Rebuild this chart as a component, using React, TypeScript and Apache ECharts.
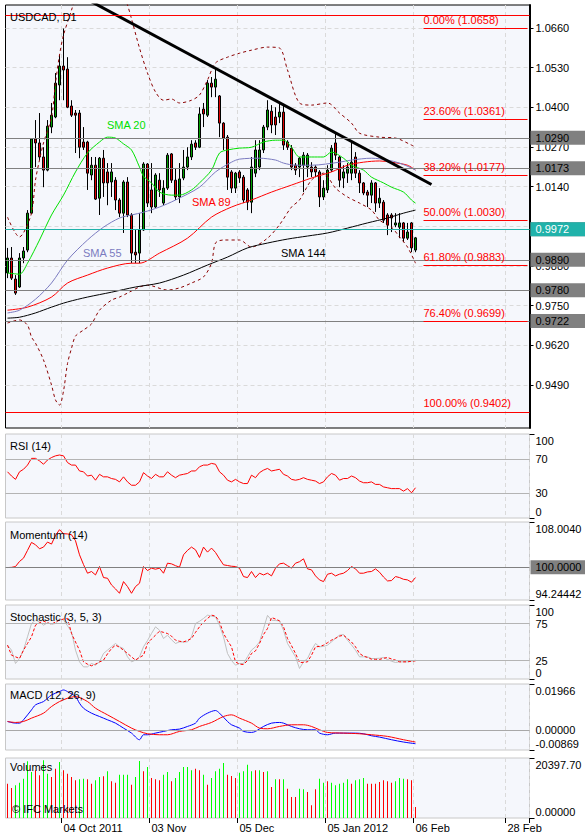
import React, { useEffect, useRef } from 'react';
import * as echarts from 'echarts';

const FONT = '"Liberation Sans", Arial, sans-serif';

// ---------- axis / category data ----------
const SLOT_COUNT = 131;
const labelIndex = [14, 36, 58, 80, 102, 125];
const labelText = ['04 Oct 2011', '03 Nov', '05 Dec', '05 Jan 2012', '06 Feb', '28 Feb'];
const priceTicks = [0.949, 0.962, 0.975, 0.988, 1.001, 1.014, 1.027, 1.04, 1.053, 1.066];

// ---------- price data: [open, close, low, high] ----------
const ohlc = [
  [0.9857, 0.9906, 0.984, 0.9939], [0.9906, 0.984, 0.9834, 0.9942], [0.9837, 0.9791, 0.9785, 0.985],
  [0.9811, 0.9906, 0.9808, 0.9922], [0.9906, 0.9929, 0.9889, 0.9942], [0.9932, 1.0053, 0.9925, 1.0063],
  [1.0053, 1.0296, 1.005, 1.0299], [1.0296, 1.0283, 1.0204, 1.0358], [1.0283, 1.0237, 1.0227, 1.0381],
  [1.0237, 1.0194, 1.0138, 1.0269], [1.0194, 1.0338, 1.019, 1.0358], [1.0335, 1.0374, 1.0315, 1.0414],
  [1.0368, 1.0479, 1.0364, 1.0512], [1.0473, 1.0535, 1.0423, 1.0571], [1.0535, 1.0522, 1.0423, 1.0658],
  [1.0525, 1.04, 1.0397, 1.0564], [1.0404, 1.0374, 1.0368, 1.0423], [1.0381, 1.0374, 1.025, 1.0391],
  [1.0381, 1.0269, 1.0233, 1.0391], [1.0286, 1.0269, 1.026, 1.0335], [1.0286, 1.0184, 1.0129, 1.029],
  [1.0178, 1.021, 1.0161, 1.0237], [1.021, 1.0099, 1.0096, 1.0237], [1.0102, 1.0233, 1.0047, 1.0237],
  [1.0233, 1.0152, 1.0106, 1.026], [1.0188, 1.0152, 1.0079, 1.0217], [1.0155, 1.0188, 1.0106, 1.0217],
  [1.0161, 1.0096, 1.0063, 1.0171], [1.0096, 1.0053, 1.004, 1.0102], [1.0053, 1.0155, 0.9988, 1.0161],
  [1.0155, 1.0047, 1.004, 1.0171], [1.0047, 0.9922, 0.9889, 1.0053], [0.9925, 0.9916, 0.9889, 0.9998],
  [0.9922, 0.9998, 0.9889, 1.0053], [0.9998, 1.0214, 0.9995, 1.022], [1.0214, 1.0086, 1.0073, 1.0217],
  [1.0129, 1.0073, 1.0053, 1.0217], [1.0073, 1.0178, 1.007, 1.0184], [1.0161, 1.0129, 1.0106, 1.0184],
  [1.0086, 1.0135, 1.0079, 1.0161], [1.0135, 1.0243, 1.0129, 1.025], [1.0247, 1.0161, 1.0152, 1.025],
  [1.0161, 1.0106, 1.0096, 1.0201], [1.0106, 1.0165, 1.0086, 1.0217], [1.0168, 1.0204, 1.0161, 1.026],
  [1.0204, 1.0237, 1.0194, 1.0269], [1.0237, 1.0279, 1.0227, 1.0292], [1.0283, 1.0269, 1.026, 1.0292],
  [1.0269, 1.0378, 1.0266, 1.04], [1.0394, 1.0378, 1.0335, 1.0414], [1.0374, 1.0479, 1.0368, 1.0489],
  [1.0479, 1.0466, 1.0433, 1.0499], [1.0466, 1.0492, 1.0433, 1.0532], [1.0437, 1.0348, 1.0302, 1.044],
  [1.0348, 1.0299, 1.026, 1.0351], [1.0302, 1.0171, 1.0129, 1.0309], [1.0188, 1.0135, 1.0119, 1.0194],
  [1.0135, 1.0184, 1.0119, 1.0188], [1.0188, 1.0168, 1.0152, 1.0194], [1.0171, 1.0096, 1.0086, 1.0178],
  [1.0129, 1.0089, 1.0063, 1.0135], [1.0089, 1.0204, 1.0053, 1.0237], [1.0184, 1.026, 1.0171, 1.0292],
  [1.0204, 1.026, 1.0194, 1.0292], [1.026, 1.0335, 1.025, 1.0342], [1.0335, 1.0391, 1.0325, 1.0423],
  [1.0387, 1.0342, 1.0315, 1.0407], [1.0368, 1.0342, 1.0309, 1.04], [1.0368, 1.0384, 1.0348, 1.0417],
  [1.0384, 1.0276, 1.026, 1.0407], [1.0286, 1.0269, 1.026, 1.0292], [1.0266, 1.0204, 1.0194, 1.0276],
  [1.021, 1.0194, 1.0178, 1.0217], [1.0204, 1.0233, 1.0171, 1.0237], [1.021, 1.0243, 1.0122, 1.0253],
  [1.0204, 1.0243, 1.0171, 1.025], [1.0204, 1.0188, 1.0171, 1.022], [1.0204, 1.0188, 1.0171, 1.021],
  [1.0188, 1.0106, 1.0073, 1.0194], [1.0106, 1.0135, 1.0096, 1.0161], [1.0129, 1.0194, 1.0119, 1.021],
  [1.0194, 1.0266, 1.0188, 1.0276], [1.0283, 1.0243, 1.0227, 1.0315], [1.0237, 1.0161, 1.0138, 1.024],
  [1.0168, 1.0188, 1.0135, 1.021], [1.0184, 1.0204, 1.0152, 1.0217], [1.0184, 1.022, 1.0161, 1.0286],
  [1.0237, 1.0184, 1.0168, 1.0253], [1.0184, 1.0152, 1.0119, 1.0194], [1.0152, 1.0119, 1.0112, 1.0155],
  [1.0122, 1.0112, 1.0073, 1.0129], [1.0112, 1.0152, 1.0086, 1.0161], [1.0152, 1.0086, 1.0057, 1.0155],
  [1.0086, 1.0102, 1.007, 1.0135], [1.0089, 1.003, 1.0021, 1.0096], [1.0047, 1.0014, 0.9981, 1.0053],
  [1.0047, 1.0037, 0.9991, 1.0053], [1.0014, 1.0021, 1.0007, 1.0053], [1.0007, 1.0021, 0.9971, 1.0053],
  [1.0021, 0.9971, 0.9958, 1.0024], [0.9971, 0.9991, 0.9965, 1.0021], [1.0021, 0.9939, 0.9925, 1.0024],
  [0.9932, 0.9972, 0.9925, 0.9975],
];

// ---------- moving averages & bands: [barIndex, value] ----------
const sma20 = [[0,0.9857],[3,0.9853],[5,0.9889],[8,0.9965],[11,1.0047],[14,1.0112],[17,1.0188],[20,1.025],[23,1.0286],[25,1.0302],[27,1.0299],[29,1.028],[31,1.026],[33,1.0204],[34,1.0174],[36,1.0152],[38,1.0122],[41,1.0112],[43,1.0112],[46,1.0129],[48,1.0152],[51,1.0194],[53,1.025],[55,1.026],[58,1.0266],[61,1.0269],[64,1.0286],[67,1.0292],[69,1.0292],[71,1.0269],[73,1.0237],[76,1.0237],[79,1.0237],[81,1.0253],[84,1.0233],[86,1.021],[89,1.0194],[91,1.0171],[94,1.0152],[96,1.0138],[99,1.0122],[101,1.0096],[102,1.0086]];
const sma55 = [[0,0.9726],[3,0.9735],[7,0.9771],[11,0.9824],[15,0.9899],[20,0.9965],[24,1.0007],[28,1.0037],[31,1.0047],[34,1.0056],[38,1.0073],[42,1.0096],[48,1.0138],[52,1.0188],[56,1.022],[58,1.023],[63,1.0233],[67,1.0227],[69,1.0217],[72,1.021],[76,1.021],[83,1.022],[86,1.0227],[91,1.0233],[95,1.0227],[98,1.0217],[101,1.0201],[102,1.0194]];
const sma89 = [[0,0.9735],[5,0.9745],[11,0.9778],[15,0.9824],[20,0.985],[25,0.9873],[31,0.9889],[33,0.9889],[38,0.9922],[45,0.9971],[51,1.004],[56,1.0073],[61,1.0096],[66,1.0122],[71,1.0145],[76,1.0168],[81,1.0188],[85,1.021],[89,1.022],[93,1.0224],[96,1.022],[100,1.021],[102,1.0194]];
const sma144 = [[0,0.9709],[3,0.9712],[7,0.9726],[11,0.9745],[15,0.9762],[20,0.9778],[26,0.9794],[32,0.9811],[38,0.9824],[44,0.985],[50,0.9883],[55,0.9909],[60,0.9939],[65,0.9955],[70,0.9968],[75,0.9978],[80,0.9988],[85,1.0004],[90,1.0021],[95,1.0037],[99,1.0053],[102,1.0063]];
const bbUpper = [[0,1.004],[3,0.9975],[4,0.9988],[6,1.0053],[7,1.0161],[8,1.0227],[9,1.0283],[11,1.0368],[12,1.0479],[13,1.0571],[14,1.0636],[16,1.0718],[18,1.08],[22,1.086],[26,1.0833],[29,1.077],[30,1.0735],[31,1.069],[33,1.0594],[35,1.0512],[37,1.045],[39,1.0423],[41,1.0427],[43,1.0414],[46,1.0423],[48,1.044],[50,1.0489],[52,1.0545],[55,1.0564],[58,1.0577],[61,1.0587],[65,1.0597],[68,1.0594],[70,1.0522],[73,1.0414],[76,1.0407],[80,1.0414],[83,1.0381],[86,1.0348],[88,1.0315],[93,1.0302],[97,1.0299],[101,1.0276],[102,1.0269]];
const bbLower = [[0,0.9693],[3,0.9703],[5,0.9686],[6,0.9647],[7,0.9627],[9,0.9572],[11,0.949],[12,0.9441],[13,0.9424],[14,0.947],[15,0.956],[16,0.961],[17,0.965],[19,0.967],[21,0.969],[23,0.9735],[26,0.9768],[28,0.9778],[30,0.9791],[33,0.9811],[35,0.9817],[40,0.9801],[43,0.9808],[46,0.9824],[49,0.9844],[51,0.9889],[52,0.9955],[54,0.9965],[58,0.9965],[61,0.9942],[65,0.9971],[68,1.0015],[71,1.0073],[73,1.0096],[76,1.0161],[79,1.0184],[82,1.0135],[85,1.0106],[88,1.0086],[91,1.0063],[93,1.003],[96,1.0007],[98,0.9975],[100,0.9942],[102,0.9889]];
const trendLine = [[14, 1.0795], [106, 1.0147]];

// ---------- horizontal levels ----------
const fibNames = ['0.00%', '23.60%', '38.20%', '50.00%', '61.80%', '76.40%', '100.00%'];
const fibValues = [1.0658, 1.0361, 1.0177, 1.003, 0.9883, 0.9699, 0.9402];
const fibStartIndex = 104;
const levelValues = [1.029, 1.0173, 1.005, 0.989, 0.978, 0.9722];
const lastPrice = 0.9972;

// ---------- indicators ----------
const rsi = [55,50,46,55,58,63,71,71,68,64,69,72,74,75,74,66,63,63,56,55,50,51,45,52,49,49,47,46,43,49,43,39,39,43,54,50,47,52,49,49,55,51,48,51,52,53,56,56,61,63,63,65,64,55,51,45,43,46,43,41,41,51,48,54,57,59,56,57,58,52,50,46,45,46,48,46,45,44,41,43,49,53,51,45,47,47,50,48,44,42,42,43,40,40,37,36,35,35,35,32,35,30,36];
const momentum = [99.97,100.0,100.15,101.04,101.63,103.0,104.4,103.99,103.28,103.58,104.46,104.11,105.64,106.65,105.94,105.9,105.76,104.7,102.22,100.5,98.97,99.27,98.67,100.15,98.2,98.08,96.9,96.2,95.43,97.49,96.61,95.43,96.61,97.2,100.15,99.44,99.86,99.68,99.86,98.97,100.74,100.62,100.3,100.03,102.22,103.0,103.58,103.1,101.75,103.58,102.69,103.4,102.63,101.5,100.45,100.33,100.2,100.15,99.86,98.38,98.2,99.27,98.2,98.97,98.67,98.97,98.5,99.86,100.62,100.74,100.3,99.86,100.74,101.0,101.51,99.74,99.56,98.5,97.79,97.49,98.79,98.97,98.5,98.8,98.97,99.44,100.15,99.74,98.97,98.97,99.2,99.27,99.74,99.15,98.3,97.61,97.67,98.38,98.2,97.9,97.79,97.38,98.2];
const stochK = [45.7,39,21,27.7,39,57,75,79.5,77.3,72.7,75.9,74.1,75,81.8,79.5,72,63.7,39,23.2,16.4,16.4,21,18.7,23.2,34.5,39,43.5,48,43.5,41.2,30,23.2,25.5,30,43.5,52,61.5,70.5,66,54.7,59.2,53,48,50.2,50,50.2,57,75,78,81.8,86.3,85,84,72.7,57,34.5,25,18.7,21,21,30,39,43.5,50,68,86,79.5,79,78.6,66,48,39,30,14.2,23.2,27.7,39,48,43.5,44,45.7,50.2,55,59.2,60.1,52.5,46,39,30,30,30,27.7,27.7,28,29.1,26.4,24,22.3,23.2,23.2,23.2,24,25.5];
const stochD = [45.7,32.2,30,27.7,39,48,57,72.7,76,78.2,76,74.1,77,79.5,81,81.8,61.5,50,39,23.2,20,17.8,20,23,25.5,34,41.2,45.7,43,39,34.5,30,25.5,29,32.2,48,54,59.2,64.6,63,61.5,57.9,52.5,51,50.2,52,54.7,63,70.5,77,81.8,86.3,85,77.3,61.5,52,43.5,23.2,20,19.6,25,34.5,38,48,60,68.2,83.1,81,78.6,70.5,54.7,45,34.5,22.3,22.5,23.2,32.2,43.5,44,45.7,49,52.5,55,57.9,59.2,54.7,50,43.5,34.5,31,29.1,26.8,26.6,26.4,28,29.1,27,25.5,23.2,23.2,23.2,24,24.5];
const macdMain = [[0,0.00356],[2,0.00285],[3,0.00285],[4,0.00428],[6,0.00855],[7,0.01069],[9,0.01211],[10,0.01354],[11,0.01496],[13,0.01639],[14,0.0171],[15,0.01639],[17,0.01425],[18,0.0114],[19,0.00926],[21,0.00713],[23,0.0057],[25,0.00428],[27,0.00285],[29,0.00071],[31,-0.00143],[33,-0.00428],[34,-0.00214],[35,-0.00214],[37,-0.00143],[39,-0.00071],[41,0],[43,0.00029],[45,0.00143],[47,0.00285],[48,0.00499],[50,0.00713],[52,0.00827],[53,0.00713],[55,0.00356],[56,0.00214],[58,0.00071],[59,-0.00071],[61,-0.00114],[62,-0.00071],[64,0.00143],[66,0.00285],[68,0.00314],[69,0.00285],[71,0.00143],[73,0.00043],[75,0],[77,0],[78,-0.00143],[80,-0.00214],[82,-0.00143],[84,-0.00143],[87,-0.00143],[89,-0.00171],[91,-0.00257],[93,-0.00314],[96,-0.00428],[99,-0.00527],[102,-0.00599]];
const macdSignal = [[0,0.00356],[2,0.00314],[4,0.00356],[6,0.00499],[9,0.00713],[11,0.00998],[13,0.01211],[15,0.01354],[17,0.01425],[20,0.01211],[22,0.00926],[25,0.00641],[28,0.00356],[31,0.00071],[33,-0.00071],[35,-0.00171],[38,-0.00214],[40,-0.00214],[43,-0.00071],[46,0],[48,0.00143],[51,0.00314],[54,0.0057],[56,0.00641],[58,0.00499],[61,0.00285],[63,0.00071],[65,0.00043],[68,0.00143],[71,0.00214],[74,0.00214],[76,0.00143],[78,0],[80,-0.00114],[84,-0.00143],[88,-0.00171],[91,-0.00214],[95,-0.00285],[99,-0.00428],[102,-0.00527]];
const volumes = [11672,10199,11105,12012,13372,19264,15638,16205,14505,19604,15072,13938,16771,19038,16205,15072,13938,12805,13145,13372,13145,11672,12805,13938,14165,15865,12465,12012,14732,14732,14732,11332,13938,19378,15865,17338,13598,13145,12805,14732,15638,12465,13598,15638,17338,17338,16205,16771,16205,14732,11332,13598,15865,16771,18698,14732,14278,13598,15411,15865,18131,15865,16205,16205,15638,15865,10539,13145,13145,13145,9972,7139,7139,9972,9746,8839,4306,9746,13372,12012,12465,12012,11105,11672,12012,13145,11672,12805,13145,13598,11672,11672,11672,12238,12805,12465,12012,12465,13598,13372,13145,12805,3740];
const volumeUp = [0,0,1,1,1,1,1,0,0,1,1,0,0,1,0,0,0,0,1,1,0,0,1,1,0,1,0,0,1,1,1,0,1,1,0,1,0,0,0,1,1,0,1,1,1,1,1,0,0,1,0,1,1,1,1,0,0,0,1,1,1,1,0,1,0,1,0,1,0,1,0,0,0,1,1,0,0,0,1,1,0,1,1,1,1,1,0,1,1,1,0,0,0,0,0,0,0,1,1,1,0,0,0];

const rsiTicks = [0, 30, 70, 100];
const rsiTickText = ['0', '30', '70', '100'];
const momMin = 94.24442, momMax = 108.004;
const momTicks = [momMin, momMax];
const momTickText = ['94.24442', '108.0040'];
const stochTicks = [0, 25, 75, 100];
const stochTickText = ['0', '25', '75', '100'];
const macdMin = -0.00869, macdMax = 0.01966;
const macdTicks = [macdMin, 0, macdMax];
const macdTickText = ['-0.00869', '0.00000', '0.01966'];
const volMax = 20397.7;
const volTicks = [0, volMax];
const volTickText = ['0.00000', '20397.70'];

const BG = '#F5F7FC';

export default function App() {
  const ref = useRef<HTMLDivElement>(null);
  useEffect(() => {
    document.body.style.margin = '0';
    const chart = echarts.init(ref.current as HTMLDivElement, null, { renderer: 'svg' });
    const categories = Array.from({ length: SLOT_COUNT }, (_, i) => String(i));
    const isLabelSlot = (i: number) => labelIndex.indexOf(i) >= 0;

    const panels = [
      { top: 5, height: 423, border: '#000000' },
      { top: 434, height: 84, border: '#C8C8C8' },
      { top: 522, height: 78, border: '#C8C8C8' },
      { top: 605, height: 74, border: '#C8C8C8' },
      { top: 684, height: 66, border: '#C8C8C8' },
      { top: 758, height: 60, border: '#C8C8C8' },
    ];
    const textStyle = { color: '#000', fontSize: 11, fontFamily: FONT };

    const indAxis = (gi: number, min: number, max: number, ticks: number[], texts: string[]) => ({
      type: 'value', gridIndex: gi, position: 'right', min, max,
      axisLine: { show: false },
      axisTick: { show: true, customValues: [min, max], length: 5, lineStyle: { color: '#000' } },
      axisLabel: {
        ...textStyle, margin: 6, customValues: ticks,
        formatter: (v: number) => {
          let best = 0;
          ticks.forEach((t, k) => { if (Math.abs(t - v) < Math.abs(ticks[best] - v)) best = k; });
          const s = texts[best];
          if (Math.abs(v - max) < 1e-9) return `{t|${s}}`;
          if (Math.abs(v - min) < 1e-9) return `{b|${s}}`;
          return s;
        },
        rich: {
          t: { ...textStyle, padding: [13, 0, 0, 0] },
          b: { ...textStyle, padding: [0, 0, 13, 0] },
        },
      },
      splitLine: { show: false },
    });

    const line = (data: any, color: string, xi: number, extra: any = {}) => ({
      type: 'line', xAxisIndex: xi, yAxisIndex: xi, data, showSymbol: false, symbol: 'none',
      lineStyle: { color, width: 1, ...(extra.lineStyle || {}) }, silent: true, z: 4,
      ...Object.fromEntries(Object.entries(extra).filter(([k]) => k !== 'lineStyle')),
    });

    const levelLine = (v: number, color: string) => ({ yAxis: v, lineStyle: { color, width: 1, type: 'solid' }, label: { show: false } });
    const boxLabel = (text: string, bg: string, fg: string) => ({
      show: true, position: 'end', formatter: text, backgroundColor: bg, color: fg,
      padding: [2, 16, 1, 5], distance: 1, fontSize: 11, fontFamily: FONT,
    });

    const priceMarks: any[] = [];
    levelValues.forEach((v) => priceMarks.push({ yAxis: v, lineStyle: { color: '#808080', width: 1, type: 'solid' }, label: boxLabel(v.toFixed(4), '#808080', '#000') }));
    priceMarks.push({ yAxis: lastPrice, lineStyle: { color: '#20B2AA', width: 1, type: 'solid' }, label: boxLabel(lastPrice.toFixed(4), '#20B2AA', '#FFFFFF') });
    priceMarks.push(levelLine(fibValues[0], '#FF0000'));
    priceMarks.push(levelLine(fibValues[fibValues.length - 1], '#FF0000'));
    fibValues.forEach((v, k) => priceMarks.push([
      {
        coord: [fibStartIndex, v], lineStyle: { color: '#FF0000', width: 1, type: 'solid' },
        label: { show: true, position: 'insideStartTop', formatter: `${fibNames[k]} (${v.toFixed(4)})`, color: '#FF0000', fontSize: 11, fontFamily: FONT, distance: [0, 3] },
      },
      { coord: [SLOT_COUNT - 1, v] },
    ]));

    const texts = [
      { text: 'USDCAD, D1', x: 10, y: 17, color: '#000' },
      { text: 'RSI (14)', x: 10, y: 446, color: '#000' },
      { text: 'Momentum (14)', x: 10, y: 535, color: '#000' },
      { text: 'Stochastic (3, 5, 3)', x: 10, y: 617, color: '#000' },
      { text: 'MACD (12, 26, 9)', x: 10, y: 695, color: '#000' },
      { text: 'Volumes', x: 10, y: 767, color: '#000' },
      { text: '© IFC Markets', x: 12, y: 809, color: '#000' },
      { text: 'SMA 20', x: 107, y: 125, color: '#00E000' },
      { text: 'SMA 55', x: 83, y: 253, color: '#7B7BC0' },
      { text: 'SMA 89', x: 192, y: 202, color: '#FF0000' },
      { text: 'SMA 144', x: 281, y: 253, color: '#000000' },
    ];

    const option: any = {
      animation: false,
      backgroundColor: '#FFFFFF',
      grid: panels.map((p) => ({
        left: 5.5, width: 524, top: p.top, height: p.height, show: true, backgroundColor: BG,
        borderColor: p.border, borderWidth: 1, containLabel: false, outerBoundsMode: 'none',
      })),
      xAxis: panels.map((p, k) => ({
        type: 'category', gridIndex: k, data: categories, boundaryGap: true,
        axisLine: { show: false, onZero: false },
        axisTick: { show: k === 5, interval: (i: number) => isLabelSlot(i), length: 5, lineStyle: { color: '#000' } },
        axisLabel: {
          show: k === 5, interval: (i: number) => isLabelSlot(i), align: 'left', margin: 4, ...textStyle,
          formatter: (_v: string, i: number) => { const j = labelIndex.indexOf(i); return j >= 0 ? labelText[j] : ''; },
        },
        splitLine: { show: true, interval: (i: number) => isLabelSlot(i), lineStyle: { color: '#DADADA', type: [4, 3], width: 1 } },
      })),
      yAxis: [
        {
          type: 'value', gridIndex: 0, position: 'right', min: 0.9349, max: 1.0735,
          axisLine: { show: true, onZero: false, lineStyle: { color: '#000', width: 2 } },
          axisTick: { show: true, customValues: priceTicks, length: 4, lineStyle: { color: '#000' } },
          axisLabel: { ...textStyle, margin: 6, customValues: priceTicks, formatter: (v: number) => v.toFixed(4) },
          splitLine: { show: true, lineStyle: { color: '#DADADA', type: [4, 3], width: 1 } },
        },
        indAxis(1, 0, 100, rsiTicks, rsiTickText),
        indAxis(2, momMin, momMax, momTicks, momTickText),
        indAxis(3, 0, 100, stochTicks, stochTickText),
        indAxis(4, macdMin, macdMax, macdTicks, macdTickText),
        indAxis(5, 0, volMax, volTicks, volTickText),
      ],
      series: [
        {
          type: 'candlestick', xAxisIndex: 0, yAxisIndex: 0, data: ohlc, barWidth: 3, silent: true, z: 3,
          itemStyle: { color: '#00A000', color0: '#E00000', borderColor: '#000', borderColor0: '#000', borderWidth: 1 },
        },
        line(bbUpper, '#8B0000', 0, { smooth: 0.3, lineStyle: { type: [3, 3] } }),
        line(bbLower, '#8B0000', 0, { smooth: 0.3, lineStyle: { type: [3, 3] } }),
        line(sma144, '#000000', 0, {
          smooth: 0.3, clip: false,
          markLine: { symbol: ['none', 'none'], silent: true, animation: false, data: priceMarks },
        }),
        line(sma89, '#FF0000', 0, { smooth: 0.3 }),
        line(sma55, '#7B7BC0', 0, { smooth: 0.3 }),
        line(sma20, '#00E000', 0, { smooth: 0.3 }),
        line(trendLine, '#000000', 0, { lineStyle: { width: 3 } }),
        line(rsi, '#FF0000', 1, {
          markLine: { symbol: ['none', 'none'], silent: true, animation: false, data: [levelLine(70, '#B4B4B4'), levelLine(30, '#B4B4B4')] },
        }),
        line(momentum, '#FF0000', 2, {
          clip: false,
          markLine: {
            symbol: ['none', 'none'], silent: true, animation: false,
            data: [{ yAxis: 100, lineStyle: { color: '#808080', width: 1, type: 'solid' }, label: boxLabel('100.0000', '#808080', '#000') }],
          },
        }),
        line(stochK, '#C0C0C0', 3, {
          markLine: { symbol: ['none', 'none'], silent: true, animation: false, data: [levelLine(75, '#B4B4B4'), levelLine(25, '#B4B4B4')] },
        }),
        line(stochD, '#FF0000', 3, { lineStyle: { type: [3, 2] } }),
        line(macdMain, '#0000FF', 4, {
          smooth: 0.3,
          markLine: { symbol: ['none', 'none'], silent: true, animation: false, data: [levelLine(0, '#A8A8A8')] },
        }),
        line(macdSignal, '#FF0000', 4, { smooth: 0.3 }),
        {
          type: 'bar', xAxisIndex: 5, yAxisIndex: 5, barWidth: 1, silent: true,
          data: volumes.map((v, i) => ({ value: v, itemStyle: { color: volumeUp[i] ? '#00FF00' : '#FF0000' } })),
        },
      ],
      graphic: {
        elements: texts.map((t) => ({
          type: 'text', x: t.x, y: t.y, z: 100, silent: true,
          style: { text: t.text, fill: t.color, font: `11px ${FONT}`, verticalAlign: 'middle', textVerticalAlign: 'middle' },
        })),
      },
    };
    chart.setOption(option);
    return () => chart.dispose();
  }, []);
  return <div ref={ref} style={{ width: 585, height: 839 }} />;
}
